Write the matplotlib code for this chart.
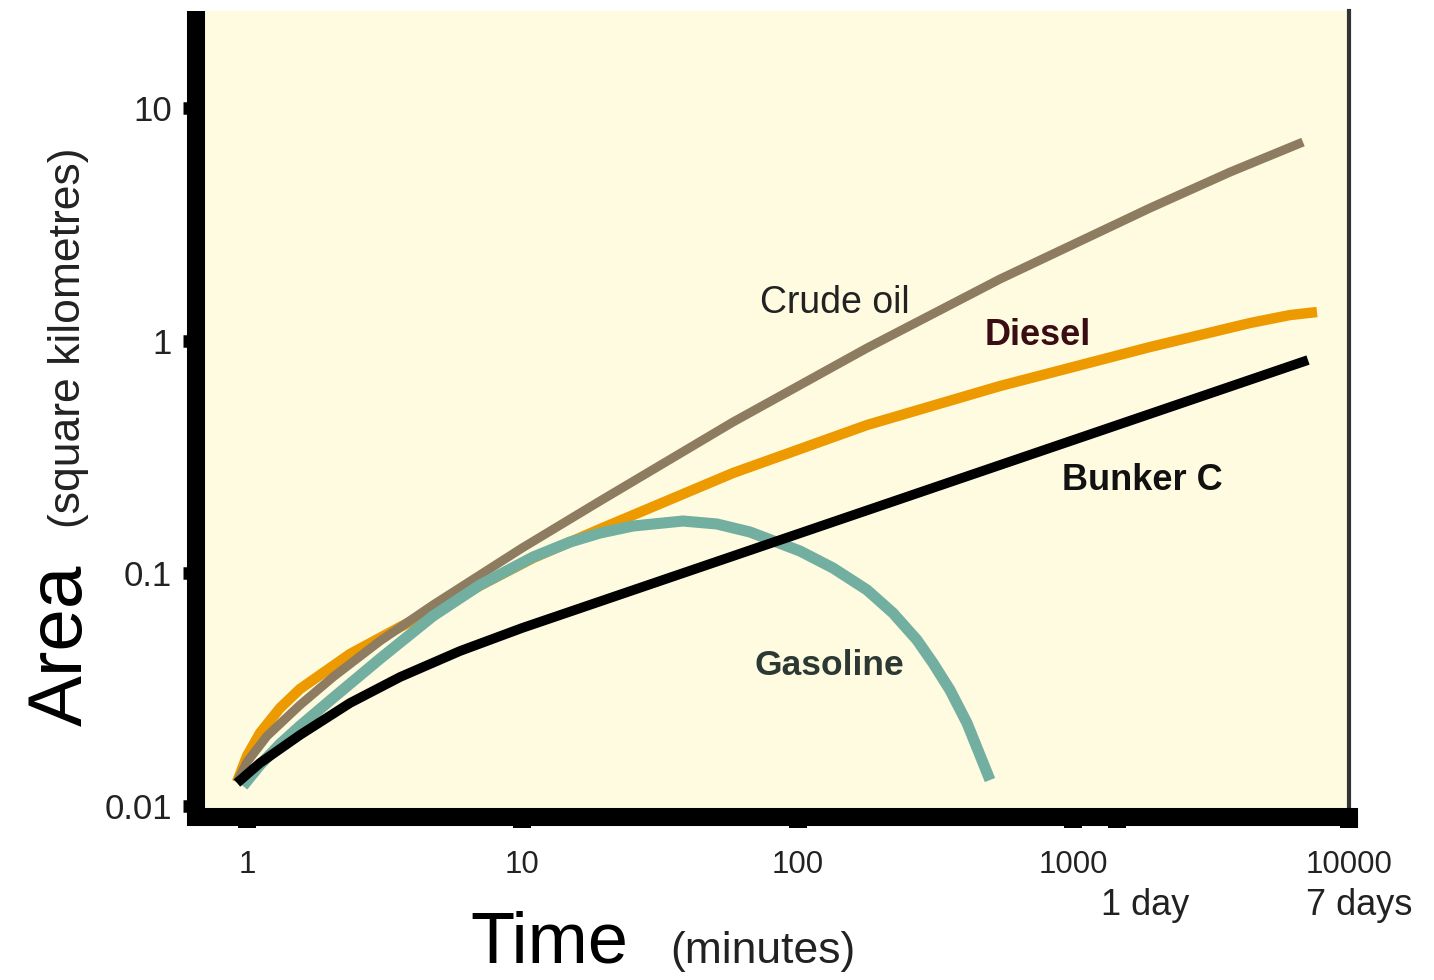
import matplotlib
matplotlib.use("Agg")
from matplotlib import pyplot as plt
from matplotlib import transforms
import numpy as np

plt.rcParams['font.family'] = ['Liberation Sans', 'DejaVu Sans']

# time (minutes) and slick area (km^2)
crude_t = [0.920, 1.0, 1.182, 1.557, 2.052, 3.039, 4.732, 9.96, 19.11, 58.08, 178.1, 541.0, 1895, 3700, 6808]
crude_a = [0.01268, 0.01546, 0.01999, 0.02716, 0.03583, 0.05118, 0.07308, 0.1284, 0.2045, 0.4468, 0.9295, 1.839, 3.714, 5.302, 7.137]

diesel_t = [0.920, 1.0, 1.115, 1.318, 1.557, 2.365, 3.593, 4.732, 10.92, 19.11, 58.08, 178.1, 541.0, 1895, 4372, 6107, 7653]
diesel_a = [0.01268, 0.01640, 0.02059, 0.02637, 0.03183, 0.04500, 0.05878, 0.06955, 0.1163, 0.1550, 0.2698, 0.4339, 0.6382, 0.9387, 1.1904, 1.2882, 1.3271]

bunker_t = [0.920, 1.115, 1.557, 2.365, 3.593, 5.933, 9.96, 86.0, 541.0, 7099]
bunker_a = [0.01256, 0.01531, 0.02019, 0.02771, 0.03583, 0.04636, 0.05820, 0.1390, 0.2920, 0.8253]

gas_t = [0.9671, 1.115, 1.318, 1.557, 2.052, 3.039, 4.732, 7.009, 10.92, 14.88, 19.11, 25.18,
         38.25, 50.82, 66.96, 101.7, 134.0, 178.1, 221.2, 270.3, 309.0, 356.2, 410.6, 497.6]
gas_a = [0.01219, 0.01501, 0.01847, 0.02207, 0.02912, 0.04293, 0.06553, 0.08907, 0.1175, 0.1363, 0.1490, 0.1597,
         0.1678, 0.1629, 0.1505, 0.1247, 0.1054, 0.08480, 0.06751, 0.05169, 0.04117, 0.03151, 0.02273, 0.01293]

x_ticks = [1, 10, 100, 1000, 10000]
x_labels = ['1', '10', '100', '1000', '10000']
y_ticks = [0.01, 0.1, 1, 10]
y_labels = ['0.01', '0.1', '1', '10']

W, H = 1434, 980
fig = plt.figure(figsize=(W / 100, H / 100), dpi=100)
fig.patch.set_facecolor('white')
ax = fig.add_axes([196 / W, 1 - 817 / H, (1349 - 196) / W, (817 - 11) / H])
ax.set_facecolor('#fffbe1')
ax.set_xscale('log')
ax.set_yscale('log')
ax.set_xlim(0.653, 10000)
ax.set_ylim(0.00897, 26.1)

kw = dict(solid_capstyle='butt', solid_joinstyle='round')
ax.plot(diesel_t, diesel_a, color='#ec9a00', lw=7.5, zorder=2, **kw)
ax.plot(crude_t, crude_a, color='#8e7c61', lw=6.5, zorder=3, **kw)
ax.plot(gas_t, gas_a, color='#72afa0', lw=8, zorder=4, **kw)
ax.plot(bunker_t, bunker_a, color='black', lw=7, zorder=5, **kw)

ax.text(72.8, 1.31, 'Crude oil', fontsize=27, color='#222222')
ax.text(477, 0.957, 'Diesel', fontsize=26, fontweight='bold', color='#3a0d15')
ax.text(908, 0.228, 'Bunker C', fontsize=26, fontweight='bold', color='#111111')
ax.text(69.8, 0.0366, 'Gasoline', fontsize=25.5, fontweight='bold', color='#2c3833')

ax.spines['left'].set_linewidth(13)
ax.spines['left'].set_color('black')
ax.spines['left'].set_capstyle('butt')
ax.spines['bottom'].set_linewidth(13)
ax.spines['bottom'].set_color('black')
ax.spines['bottom'].set_capstyle('projecting')
ax.spines['right'].set_linewidth(3)
ax.spines['right'].set_color('#333333')
ax.spines['top'].set_visible(False)

ax.minorticks_off()
ax.set_xticks(x_ticks + [1440])
ax.set_xticklabels(x_labels + [''])
ax.set_yticks(y_ticks)
ax.set_yticklabels(y_labels)
ax.tick_params(axis='x', direction='out', length=8, width=13, pad=16,
               labelsize=22.5, labelcolor='#222222')
ax.tick_params(axis='y', direction='out', length=9.4, width=9, pad=8,
               labelsize=25, labelcolor='#222222')

trans = transforms.blended_transform_factory(ax.transData, ax.transAxes)
ax.annotate('1 day', xy=(1440, 0), xycoords=trans, xytext=(20, -51),
            textcoords='offset points', ha='center', va='top', fontsize=26, color='#222222')
ax.annotate('7 days', xy=(10080, 0), xycoords=trans, xytext=(7, -51),
            textcoords='offset points', ha='center', va='top', fontsize=26, color='#222222')

fig.text(470 / W, 1 - 962 / H, 'Time', fontsize=52, color='black', ha='left', va='baseline')
fig.text(670 / W, 1 - 963 / H, '(minutes)', fontsize=32, color='#222222', ha='left', va='baseline')
fig.text(98 / W, 1 - 645 / H, 'Area', fontsize=55, rotation=90,
         ha='right', va='center', color='black')
fig.text(89 / W, 1 - 338 / H, '(square kilometres)', fontsize=32, rotation=90,
         ha='right', va='center', color='#222222')

fig.savefig('out.png', dpi=100)
